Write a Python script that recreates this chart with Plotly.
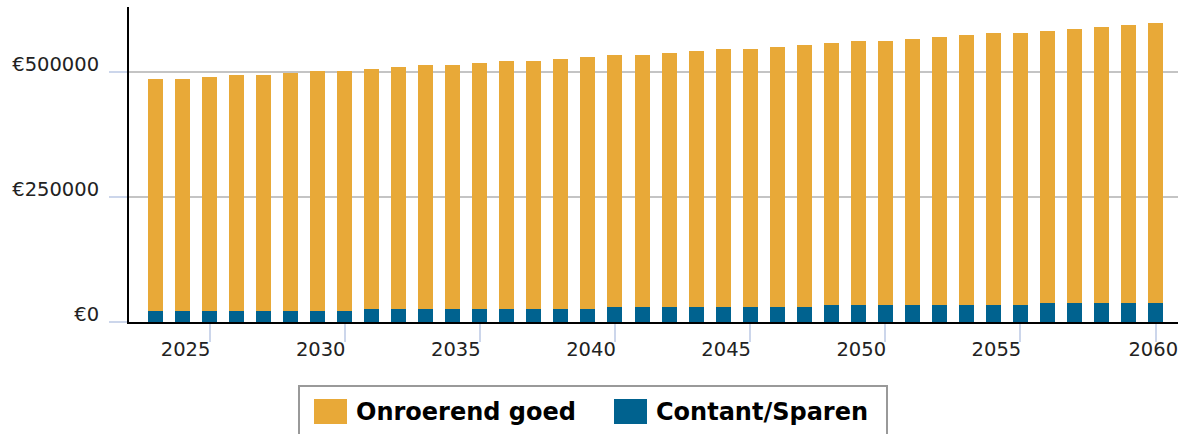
import plotly.graph_objects as go

# data
years = list(range(2023, 2061))
contant_sparen = [22000] * 8 + [26000] * 9 + [30000] * 8 + [34000] * 8 + [38000] * 5
onroerend_goed = [
    464000, 464000, 468000, 472000, 472000, 476000, 480000, 480000,
    480000, 484000, 488000, 488000, 492000, 496000, 496000, 500000, 504000,
    504000, 504000, 508000, 512000, 516000, 516000, 520000, 524000,
    524000, 528000, 528000, 532000, 536000, 540000, 544000, 544000,
    544000, 548000, 552000, 556000, 560000,
]
x_ticks = [2025, 2030, 2035, 2040, 2045, 2050, 2055, 2060]
x_tick_labels = ["2025", "2030", "2035", "2040", "2045", "2050", "2055", "2060"]
y_ticks = [0, 250000, 500000]
y_tick_labels = ["€0", "€250000", "€500000"]
series_names = ["Onroerend goed", "Contant/Sparen"]

ORANGE = "#E8A938"
BLUE = "#00628F"
FONT = "DejaVu Sans"

W, H = 1187, 434
PL, PR, PT, PB = 129, 1178, 7, 322


def px_x(x):
    return (x - PL) / (PR - PL)


def px_y(y):
    return (PB - y) / (PB - PT)


fig = go.Figure()
fig.add_bar(x=years, y=contant_sparen, name=series_names[1], marker_color=BLUE,
            marker_line_width=0, showlegend=False)
fig.add_bar(x=years, y=onroerend_goed, name=series_names[0], marker_color=ORANGE,
            marker_line_width=0, showlegend=False)

# last label sits centred on its tick, the others end at theirs
ticktext = ["\u00a0" * 7 + t if t == "2060" else t for t in x_tick_labels]

fig.update_layout(
    width=W, height=H,
    margin=dict(l=PL, r=W - PR, t=PT, b=H - PB),
    barmode="stack", bargap=0.445,
    plot_bgcolor="white", paper_bgcolor="white",
    font=dict(family=FONT, size=19.5, color="#222"),
    xaxis=dict(
        range=[2022.02, 2060.83], tickvals=x_ticks, ticktext=ticktext,
        showgrid=False, zeroline=False, automargin=False,
        showline=True, linecolor="black", linewidth=2,
        ticks="outside", ticklen=18, tickwidth=2, tickcolor="#ccd6eb",
        ticklabelshift=-24, ticklabelstandoff=-9,
    ),
    yaxis=dict(
        range=[0, 630000], tickvals=y_ticks, ticktext=y_tick_labels,
        showgrid=True, gridcolor="#c4c4c4", gridwidth=2, zeroline=False, automargin=False,
        showline=True, linecolor="black", linewidth=2,
        ticks="outside", ticklen=18, tickwidth=2, tickcolor="#ccd6eb",
        ticklabelshift=-8, ticklabelstandoff=6,
    ),
)

# legend box drawn by hand so the swatches can match the reference size
shapes = [dict(type="rect", xref="paper", yref="paper",
               x0=px_x(299), x1=px_x(887), y0=px_y(386), y1=px_y(450),
               line=dict(color="#999", width=2), fillcolor="white", layer="above")]
annotations = []
for name, color, sx in [(series_names[0], ORANGE, 314), (series_names[1], BLUE, 614)]:
    shapes.append(dict(type="rect", xref="paper", yref="paper",
                       x0=px_x(sx), x1=px_x(sx + 33), y0=px_y(399), y1=px_y(424),
                       line_width=0, fillcolor=color, layer="above"))
    annotations.append(dict(text=f"<b>{name}</b>", xref="paper", yref="paper",
                            x=px_x(sx + 40), y=px_y(412), xanchor="left", yanchor="middle",
                            showarrow=False, font=dict(family=FONT, size=24, color="black")))
fig.update_layout(shapes=shapes, annotations=annotations)

# page body has a default 8px margin; drop it so the figure sits at 0,0
fig.write_html("out.html", config={"displayModeBar": False},
               post_script="document.body.style.margin='0';")
